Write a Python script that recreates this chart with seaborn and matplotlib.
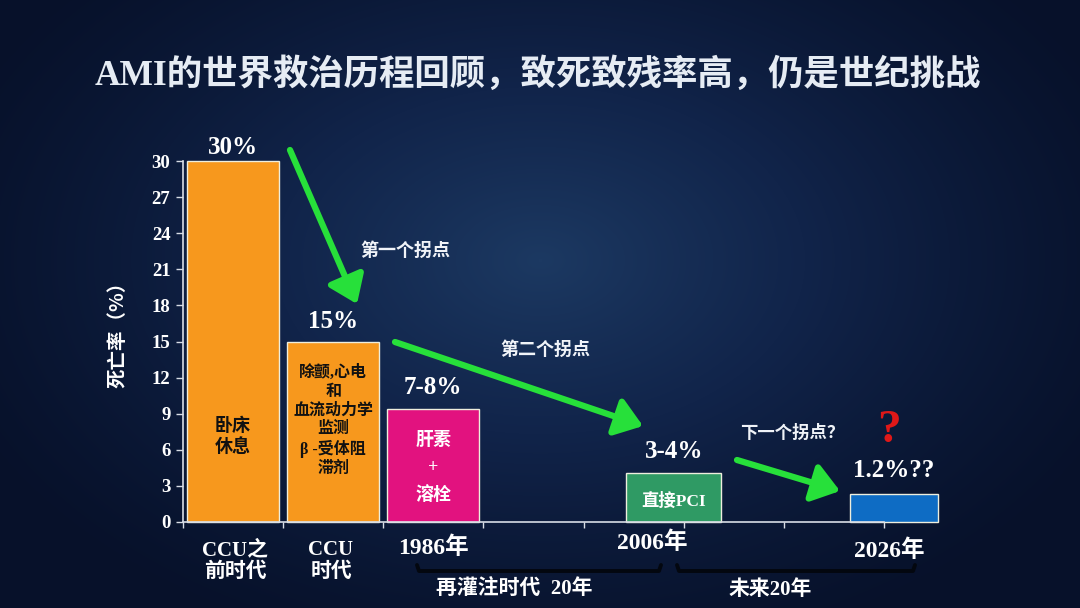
import numpy as np
import pandas as pd
import matplotlib
matplotlib.use("Agg")
import matplotlib.pyplot as plt
from matplotlib.colors import LinearSegmentedColormap
from matplotlib.lines import Line2D
import seaborn as sns

# ---------------- data ----------------
eras = ["CCU之\n前时代", "CCU\n时代", "1986年", "2006年", "2026年"]
mortality = [30, 15, 9.4, 4.1, 2.3]
value_labels = ["30%", "15%", "7-8%", "3-4%", "1.2%??"]
treatments = ["卧床\n休息", "除颤,心电\n和\n血流动力学\n监测\nβ -受体阻\n滞剂", "肝素\n+\n溶栓", "直接PCI", ""]
bar_colors = ["#F7981D", "#F7981D", "#E2127F", "#2F9A64", "#0E6CC4"]
treat_colors = ["#111111", "#111111", "white", "white", "white"]
bar_pos = [0.5, 1.5, 2.5, 4.9, 7.1]
bar_width = [0.92, 0.92, 0.92, 0.95, 0.87]
yticks = list(range(0, 31, 3))
turning_points = ["第一个拐点", "第二个拐点", "下一个拐点？"]
periods = ["再灌注时代  20年", "未来20年"]
title = "AMI的世界救治历程回顾，致死致残率高，仍是世纪挑战"

# ---------------- style ----------------
sns.set_theme(style="ticks")
plt.rcParams["font.family"] = ["Liberation Serif", "Noto Sans CJK SC", "DejaVu Sans"]
plt.rcParams["font.weight"] = "bold"
plt.rcParams["axes.unicode_minus"] = False

W, H = 1080, 608
fig = plt.figure(figsize=(W / 100, H / 100), dpi=100)
fig.patch.set_facecolor("#0a1632")


def px(x, y):
    return (x / W, 1 - y / H)


# background gradient
bg = fig.add_axes([0, 0, 1, 1], zorder=-10)
yy, xx = np.mgrid[0:H, 0:W]
d = np.sqrt(((xx - 540) / 640) ** 2 + ((yy - 260) / 420) ** 2)
val = np.clip(1 - d, 0, 1) ** 1.3
cmap = LinearSegmentedColormap.from_list("bg", ["#07112a", "#11244a", "#1c3962"])
bg.imshow(val, cmap=cmap, aspect="auto", extent=[0, W, H, 0])
bg.axis("off")

ax = fig.add_axes([183 / W, 1 - 522 / H, (884 - 183) / W, (522 - 161) / H])
ax.set_facecolor("none")

df = pd.DataFrame({"pos": bar_pos, "mortality": mortality, "era": eras})
sns.barplot(data=df, x="pos", y="mortality", hue="era", palette=bar_colors,
            native_scale=True, legend=False, ax=ax, width=0.92, saturation=1,
            edgecolor="#eeeedd", linewidth=1.0)

patches = sorted(ax.patches, key=lambda p: p.get_x())
for p, c, w in zip(patches, bar_pos, bar_width):
    p.set_width(w)
    p.set_x(c - w / 2)
    p.set_clip_on(False)

ax.set_xlim(0, 7)
ax.set_ylim(0, 30)
ax.set_xticks(range(8))
ax.set_xticklabels([])
ax.set_yticks(yticks)
ax.set_yticklabels([str(t) for t in yticks], fontsize=13.5, fontweight="bold",
                   color="white", family="Liberation Serif")
ax.set_xlabel("")
ax.set_ylabel("")
for s in ["top", "right"]:
    ax.spines[s].set_visible(False)
for s in ["left", "bottom"]:
    ax.spines[s].set_color("#d8dde6")
    ax.spines[s].set_linewidth(1.2)
ax.tick_params(axis="y", colors="#d8dde6", length=5, width=1, labelcolor="white", pad=4)
ax.tick_params(axis="x", colors="#d8dde6", length=4, width=1, direction="out")

# value labels above bars
offsets = [13, 20, 21, 21, 24]
for x, v, lab, off in zip(bar_pos, mortality, value_labels, offsets):
    ax.annotate(lab, (x, v), xytext=(0, off), textcoords="offset pixels",
                ha="center", va="center", fontsize=18, fontweight="bold",
                color="white", annotation_clip=False)

# text inside bars
inner_sizes = [13, 11.5, 13, 12.5]
inner_y = [7.1, 8.4, 4.5, 1.7]
inner_ls = [1.2, 1.22, 1.75, 1.2]
for x, t, c, fs, yv, ls in zip(bar_pos, treatments, treat_colors, inner_sizes, inner_y, inner_ls):
    if t:
        ax.text(x, yv, t, ha="center", va="center", fontsize=fs, color=c,
                fontweight="bold", linespacing=ls,
                family=["Liberation Serif", "Noto Sans CJK SC"])

# era labels below axis
era_px = [(235, 561), (331, 561), (433, 548), (652, 543), (889, 551)]
era_fs = [15, 15, 17, 17, 17]
for lab, (x, y), fs in zip(eras, era_px, era_fs):
    fig.text(*px(x, y), lab, ha="center", va="center", fontsize=fs,
             fontweight="bold", color="white", linespacing=1.1)

# title
fig.text(*px(538, 75), title, ha="center", va="center", fontsize=25.5,
         fontweight="bold", color="#e6ecf4")

# y label
fig.text(*px(118, 330), "死亡率（%）", rotation=90, ha="center", va="center",
         fontsize=14, fontweight="bold", color="white",
         family=["Noto Sans CJK SC", "Liberation Serif"])

# green arrows
arrows = [((290, 150), (357, 304)), ((395, 342), (643, 426)), ((737, 460), (840, 491))]
for (x0, y0), (x1, y1) in arrows:
    fig.add_artist(matplotlib.patches.FancyArrowPatch(
        px(x0, y0), px(x1, y1), transform=fig.transFigure,
        arrowstyle="-|>,head_length=0.9,head_width=0.65", mutation_scale=18,
        lw=4.5, color="#27e03a", shrinkA=0, shrinkB=0))

tp_px = [(405, 250), (545, 349), (792, 433)]
tp_fs = [13, 13, 12.5]
for lab, (x, y), fs in zip(turning_points, tp_px, tp_fs):
    fig.text(*px(x, y), lab, ha="center", va="center", fontsize=fs,
             fontweight="bold", color="#f0f3f8",
             family=["Noto Sans CJK SC", "DejaVu Sans"])

# red question mark
fig.text(*px(889, 431), "?", ha="center", va="center", fontsize=34,
         fontweight="bold", color="#e01818", family="Liberation Serif")

# brackets for periods
brackets = [(417, 661), (677, 915)]
for x0, x1 in brackets:
    xs = [x0, x0 + 2, x1 - 2, x1]
    ys = [565, 571, 571, 565]
    fig.add_artist(Line2D([x / W for x in xs], [1 - y / H for y in ys],
                          transform=fig.transFigure, color="#03070f", lw=2.8))

period_px = [(514, 590), (770, 590)]
for lab, (x, y) in zip(periods, period_px):
    fig.text(*px(x, y), lab, ha="center", va="center", fontsize=15,
             fontweight="bold", color="white")

fig.savefig("out.png", dpi=100, facecolor=fig.get_facecolor())
